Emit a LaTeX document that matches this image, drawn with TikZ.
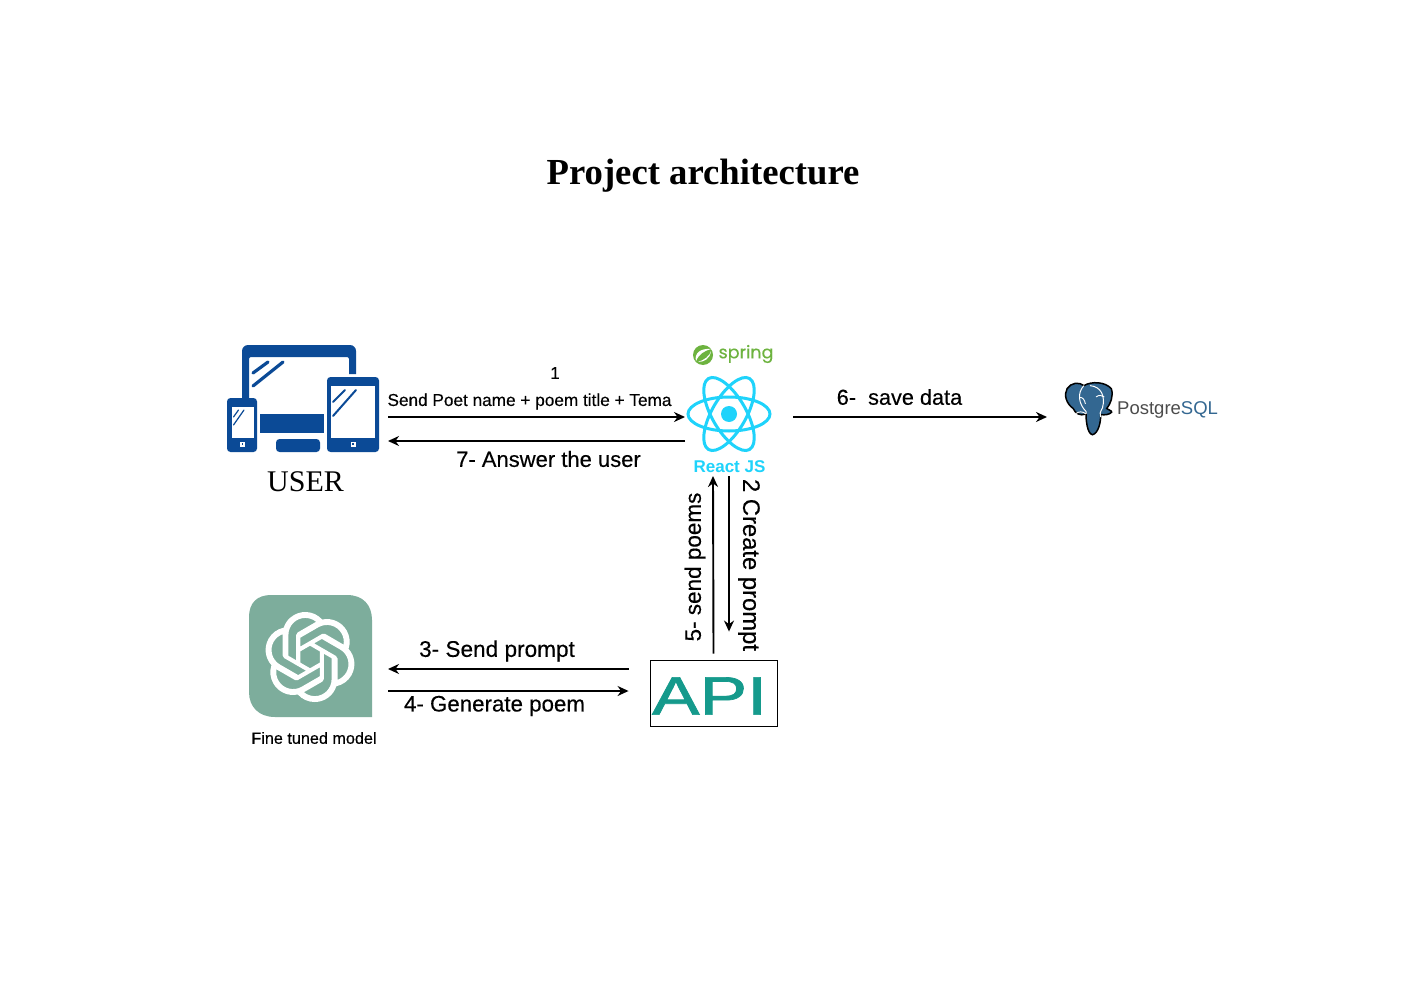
\documentclass[tikz,border=0pt]{standalone}
\usepackage{fontspec}
\usepackage{graphicx}
\setmainfont{Liberation Sans}
\newfontfamily\serifface{Liberation Serif}
\newfontfamily\heavyface[FakeBold=0.3]{Liberation Sans}
\newfontfamily\apiface[FakeBold=1.2]{Liberation Sans}
\newfontfamily\springface[FakeBold=0.2]{Poppins}
\usetikzlibrary{arrows.meta,svg.path}
\definecolor{devblue}{HTML}{0B4A96}
\definecolor{reactc}{HTML}{1FD3FB}
\definecolor{springc}{HTML}{6DB33F}
\definecolor{pgblue}{HTML}{336791}
\definecolor{gptc}{HTML}{7DAD9C}
\definecolor{apic}{HTML}{159A8C}
\tikzset{
  ghost/.style={inner sep=0pt,outer sep=0pt,draw=none},
  lbl/.style={inner sep=0pt,text=black,font=\fontsize{#1}{#1}\selectfont\heavyface},
  flow/.style={draw=black,line width=1.9pt,-{Stealth[length=11pt,width=10pt]}},
}
\begin{document}
\begin{tikzpicture}[x=1pt,y=-1pt]
\useasboundingbox (0,0) rectangle (1403,992);
\fill[white] (0,0) rectangle (1403,992);

% anchors of the icons
\node[ghost,minimum width=161pt,minimum height=107pt] (user) at (307.5,398.5) {};
\node[ghost,minimum width=108pt,minimum height=118pt] (react) at (739,417) {};
\node[ghost,minimum width=176pt,minimum height=80pt] (pg) at (1135,417) {};
\node[ghost,minimum width=139pt,minimum height=122pt] (gpt) at (318.5,656) {};
\node[draw=black,line width=0.9pt,inner sep=0pt,minimum width=127pt,minimum height=66pt] (api) at (713.5,693) {};

\node[inner sep=0pt,font=\fontsize{36.7}{36.7}\selectfont\serifface\bfseries] (title) at (703,175.5) {Project architecture};

% devices
\fill[devblue]
  (242,398) [rounded corners=6pt] -- (242,345) -- (356,345) [sharp corners] -- (356,374) -- (349,374) [rounded corners=2pt] -- (349,357) -- (249,357) [sharp corners] -- (249,398) -- cycle;
\fill[devblue] (260,414) rectangle (324,433);
\fill[devblue,rounded corners=3.5pt] (276,439) rectangle (320,452);
\fill[devblue,rounded corners=3.5pt] (327,377) rectangle (379,452);
\fill[white] (331,386) rectangle (375,438);
\fill[white] (350.5,441.5) rectangle (355.5,446.5);
\fill[devblue] (352,443) rectangle (354,445);
\fill[devblue,rounded corners=3.5pt] (227,398) rectangle (257,452);
\fill[white] (232,407) rectangle (254,438);
\fill[white] (240,441.5) rectangle (244.5,446.5);
\fill[devblue] (241.5,443) rectangle (243,445);
\draw[devblue,line width=3.2pt,line cap=round] (253,373) -- (268,362) (253,386) -- (283,362);
\draw[devblue,line width=2pt,line cap=round] (333,402) -- (345,390) (333,416) -- (356,390);
\draw[devblue,line width=1.2pt,line cap=round] (233.5,417) -- (238.5,410) (233.5,425) -- (244,410);
\node[inner sep=0pt,font=\fontsize{30}{30}\selectfont\serifface] (userlbl) at (305.5,482) {USER};

% spring
\fill[springc] (703,355) circle (10);
\fill[white] (696,361) .. controls (694,353) and (701,348) .. (711,349) .. controls (704,351) and (699,354) .. (696,361) -- cycle;
\fill[white] (698,362) .. controls (704,362) and (710,359) .. (711,351) .. controls (710,356) and (704,360) .. (698,362) -- cycle;
\node[inner sep=0pt,text=springc,font=\fontsize{17.5}{17.5}\selectfont\springface] (springlbl) at (746,354) {spring};

% react
\draw[reactc,line width=3pt] (729,414) ellipse [x radius=41,y radius=17];
\draw[reactc,line width=3pt,rotate around={60:(729,414)}] (729,414) ellipse [x radius=41,y radius=17];
\draw[reactc,line width=3pt,rotate around={-60:(729,414)}] (729,414) ellipse [x radius=41,y radius=17];
\fill[reactc] (729,414) circle (8);
\node[inner sep=0pt,text=reactc,font=\fontsize{17}{17}\selectfont\bfseries] (reactlbl) at (729.5,466.5) {React JS};

% postgres elephant
\begin{scope}[shift={(1061,378)},scale=0.305]
\filldraw[fill=pgblue,draw=black,line width=1.5pt]
  (20,35) .. controls (32,15) and (60,12) .. (75,25)
  .. controls (100,10) and (145,12) .. (165,35)
  .. controls (173,60) and (162,85) .. (150,100)
  .. controls (155,106) and (167,106) .. (166,112)
  .. controls (160,120) and (143,122) .. (130,120)
  .. controls (131,145) and (122,182) .. (103,186)
  .. controls (85,182) and (82,135) .. (82,118)
  .. controls (62,126) and (46,115) .. (40,100)
  .. controls (18,85) and (8,55) .. (20,35) -- cycle;
\draw[white,line width=1pt] (75,25) .. controls (52,50) and (58,85) .. (82,110) -- (82,118);
\draw[white,line width=1pt] (95,25) .. controls (132,28) and (146,60) .. (136,98) .. controls (128,112) and (126,120) .. (130,128);
\draw[white,line width=0.9pt] (60,65) .. controls (68,60) and (78,70) .. (80,85);
\draw[white,line width=0.9pt] (115,62) .. controls (124,55) and (134,56) .. (142,62);
\draw[white,line width=0.9pt] (82,118) .. controls (70,108) and (58,110) .. (50,116);
\end{scope}
\node[inner sep=0pt,anchor=west,text=black!70,font=\fontsize{18.5}{18.5}\selectfont] (pglbl) at (1117,410) {Postgre\textcolor{pgblue}{SQL}};

% model icon
\fill[gptc] (249,617) .. controls (249,603) and (257,595) .. (271,595) -- (347,595)
  .. controls (363,595) and (372,605) .. (372,620) -- (372,717) -- (275,717)
  .. controls (259,717) and (249,707) .. (249,692) -- cycle;
\fill[white,even odd rule,shift={(265,612)},xscale=3.75,yscale=-3.75] svg {M 22.2819 9.8211 a 5.9847 5.9847 0 0 0 -0.5157 -4.9108 a 6.0462 6.0462 0 0 0 -6.5098 -2.9 A 6.0651 6.0651 0 0 0 4.9807 4.1818 a 5.9847 5.9847 0 0 0 -3.9977 2.9 a 6.0462 6.0462 0 0 0 0.7427 7.0966 a 5.98 5.98 0 0 0 0.511 4.9107 a 6.051 6.051 0 0 0 6.5146 2.9001 A 5.9847 5.9847 0 0 0 13.2599 24 a 6.0557 6.0557 0 0 0 5.7718 -4.2058 a 5.9894 5.9894 0 0 0 3.9977 -2.9001 a 6.0557 6.0557 0 0 0 -0.7475 -7.0729 Z
M 13.2599 22.4292 a 4.4755 4.4755 0 0 1 -2.8764 -1.0408 l 0.1419 -0.0804 4.7783 -2.7582 a 0.7948 0.7948 0 0 0 0.3927 -0.6813 v -6.7369 l 2.02 1.1686 a 0.071 0.071 0 0 1 0.038 0.052 v 5.5826 a 4.504 4.504 0 0 1 -4.4945 4.4944 Z
M 3.5992 18.3038 a 4.4708 4.4708 0 0 1 -0.5346 -3.0137 l 0.142 0.0852 4.783 2.7582 a 0.7712 0.7712 0 0 0 0.7806 0 l 5.8428 -3.3685 v 2.3324 a 0.0804 0.0804 0 0 1 -0.0332 0.0615 L 9.74 19.9502 a 4.4992 4.4992 0 0 1 -6.1408 -1.6464 Z
M 2.3408 7.8956 a 4.485 4.485 0 0 1 2.3655 -1.9728 V 11.6 a 0.7664 0.7664 0 0 0 0.3879 0.6765 l 5.8144 3.3543 -2.0201 1.1685 a 0.0757 0.0757 0 0 1 -0.071 0 l -4.8303 -2.7865 A 4.504 4.504 0 0 1 2.3408 7.872 Z
M 18.9371 11.7278 L 13.1038 8.364 15.1192 7.2 a 0.0757 0.0757 0 0 1 0.071 0 l 4.8303 2.7913 a 4.4944 4.4944 0 0 1 -0.6765 8.1042 v -5.6772 a 0.79 0.79 0 0 0 -0.407 -0.667 Z
M 20.9478 8.7047 l -0.142 -0.0852 -4.7735 -2.7818 a 0.7759 0.7759 0 0 0 -0.7854 0 L 9.409 9.2297 V 6.8974 a 0.0662 0.0662 0 0 1 0.0284 -0.0615 l 4.8303 -2.7866 a 4.4992 4.4992 0 0 1 6.6802 4.66 Z
M 8.3065 12.863 l -2.02 -1.1638 a 0.0804 0.0804 0 0 1 -0.038 -0.0567 V 6.0742 a 4.4992 4.4992 0 0 1 7.3757 -3.4537 l -0.142 0.0805 L 8.704 5.459 a 0.7948 0.7948 0 0 0 -0.3927 0.6813 Z
M 9.4041 10.4976 l 2.602 -1.4998 2.6069 1.4998 v 2.9994 l -2.5974 1.4997 -2.6067 -1.4997 Z};
\node[inner sep=0pt,font=\fontsize{16.2}{16.2}\selectfont\heavyface] (gptlbl) at (314,738) {Fine tuned model};

% API
\node[inner sep=0pt,text=apic,font=\fontsize{54}{54}\selectfont\apiface] (apilbl) at (709.5,696) {\scalebox{1.32}[1]{API}};

% connectors
\draw[flow] ([yshift=-18.5pt]user.east) -- (react.west);
\draw[flow] ([yshift=-24pt]react.west) -- ([yshift=-42.5pt]user.east);
\draw[flow] (react.east) -- (pg.west);
\draw[flow] ([xshift=-10pt]react.south) -- ([xshift=15.5pt,yshift=28pt]api.north);
\draw[flow] ([yshift=6pt]api.north) -- ([xshift=-26pt]react.south);
\draw[flow] ([xshift=-21pt,yshift=24pt]api.west) -- ([yshift=-13pt]gpt.east);
\draw[flow] ([yshift=-35pt]gpt.east) -- ([xshift=-21pt,yshift=2pt]api.west);

% labels
\node[lbl=17] (l1a) at (555,373) {1};
\node[lbl=17.2] (l1b) at (529.5,401.5) {Send Poet name + poem title + Tema};
\node[lbl=22] (l7) at (548.5,459) {7- Answer the user};
\node[lbl=21.7] (l6) at (899.5,397) {6-\ \ save data};
\node[lbl=22.5,rotate=90] (l5) at (695,567) {5- send poems};
\node[lbl=23.8,rotate=-90] (l2) at (749,565) {2 Create prompt};
\node[lbl=22.6] (l3) at (497,651) {3- Send prompt};
\node[lbl=22.3] (l4) at (494.5,706) {4- Generate poem};
\end{tikzpicture}
\end{document}
